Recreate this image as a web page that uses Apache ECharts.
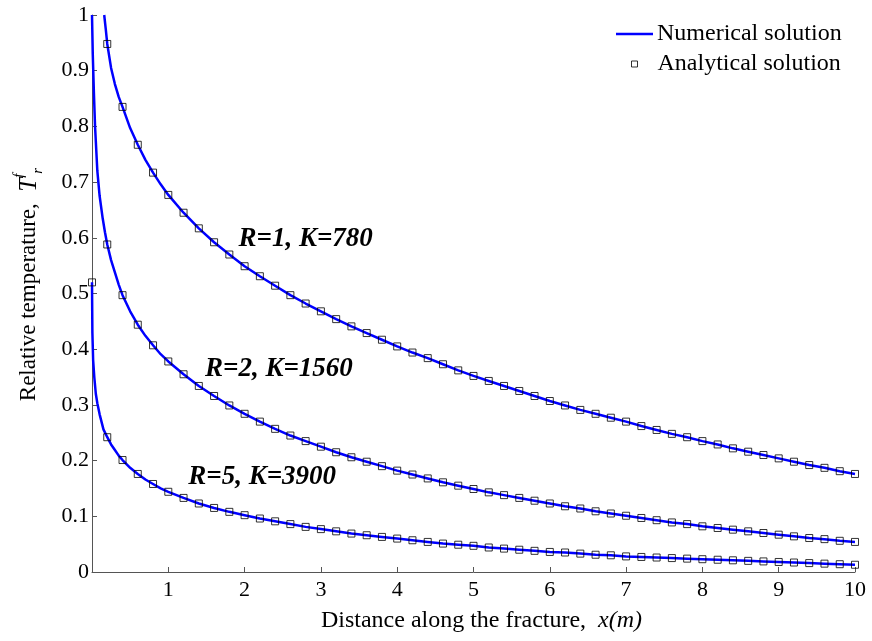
<!DOCTYPE html>
<html>
<head>
<meta charset="utf-8">
<script src="https://cdn.jsdelivr.net/npm/echarts@6/dist/echarts.min.js"></script>
<style>html,body{margin:0;padding:0;background:#fff}#c{width:872px;height:641px}</style>
</head>
<body>
<div id="c"></div>
<script>
// Sample positions of the analytical markers (m)
const xGrid = [0.2,0.4,0.6,0.8,1.0,1.2,1.4,1.6,1.8,2.0,2.2,2.4,2.6,2.8,3.0,3.2,3.4,3.6,3.8,4.0,
  4.2,4.4,4.6,4.8,5.0,5.2,5.4,5.6,5.8,6.0,6.2,6.4,6.6,6.8,7.0,7.2,7.4,7.6,7.8,8.0,
  8.2,8.4,8.6,8.8,9.0,9.2,9.4,9.6,9.8,10.0];

// R=1, K=780
const r1 = [0.948,0.835,0.767,0.717,0.677,0.645,0.617,0.592,0.570,0.549,0.531,0.514,0.497,0.482,0.468,0.454,0.441,0.429,0.417,0.405,
  0.394,0.384,0.373,0.362,0.352,0.343,0.334,0.325,0.316,0.307,0.299,0.291,0.284,0.277,0.270,0.262,0.255,0.248,0.242,0.235,
  0.229,0.222,0.216,0.210,0.204,0.198,0.192,0.187,0.181,0.176];
// R=2, K=1560
const r2 = [0.588,0.497,0.444,0.407,0.378,0.355,0.334,0.316,0.299,0.284,0.270,0.257,0.245,0.235,0.225,0.215,0.206,0.198,0.190,0.182,
  0.175,0.168,0.161,0.155,0.149,0.143,0.138,0.133,0.128,0.123,0.118,0.114,0.109,0.105,0.101,0.097,0.093,0.089,0.086,0.082,
  0.079,0.076,0.073,0.070,0.067,0.064,0.061,0.059,0.056,0.054];
// R=5, K=3900
const r5 = [0.242,0.201,0.176,0.158,0.144,0.133,0.123,0.115,0.108,0.102,0.096,0.091,0.086,0.081,0.077,0.073,0.069,0.066,0.063,0.060,
  0.057,0.054,0.051,0.049,0.047,0.044,0.042,0.040,0.038,0.036,0.035,0.033,0.031,0.030,0.028,0.027,0.026,0.025,0.024,0.023,
  0.022,0.021,0.020,0.019,0.018,0.017,0.016,0.015,0.014,0.013];
// extra analytical point at the origin
const originX = [0];
const originY = [0.52];

// numerical solution: extra points near the fracture inlet (steep part)
const r1ExtraX = [0.16,0.18,0.25,0.3,0.35,0.5,0.7,0.9];
const r1ExtraY = [1.0,0.975,0.905,0.876,0.853,0.797,0.740,0.696];
const r2ExtraX = [0,0.01,0.025,0.04,0.07,0.1,0.14,0.17,0.25,0.3,0.35,0.5,0.7,0.9];
const r2ExtraY = [1.0,0.93,0.86,0.80,0.72,0.675,0.635,0.61,0.560,0.538,0.516,0.468,0.424,0.391];
const r5ExtraX = [0,0.005,0.015,0.03,0.05,0.07,0.1,0.15,0.25,0.3,0.35,0.5,0.7,0.9];
const r5ExtraY = [0.52,0.43,0.38,0.35,0.32,0.303,0.283,0.256,0.229,0.219,0.209,0.187,0.166,0.150];

const labels = [
  {text:'R=1, K=780', x:2.80, y:0.598},
  {text:'R=2, K=1560', x:2.45, y:0.364},
  {text:'R=5, K=3900', x:2.23, y:0.170}
];

const FONT = '"Liberation Serif","Times New Roman",serif';

function zip(xs, ys){ return xs.map((x,i)=>[x, ys[i]]); }
function lineData(ex, ey, ys){
  const pts = zip(ex, ey).concat(zip(xGrid, ys));
  pts.sort((a,b)=>a[0]-b[0]);
  return pts;
}

function numSeries(data, lab){
  return {
    name:'Numerical solution', type:'line', data:data, showSymbol:false, symbol:'none',
    lineStyle:{color:'#0000ff', width:2.5}, itemStyle:{color:'#0000ff'},
    z:2, animation:false, clip:true,
    markPoint: {
      symbol:'circle', symbolSize:0, silent:true, animation:false,
      data:[{coord:[lab.x, lab.y], label:{show:true, formatter:lab.text, position:'inside',
        fontFamily:FONT, fontWeight:'bold', fontStyle:'italic', fontSize:27, color:'#000'}}]
    }
  };
}
function anaSeries(data){
  return {
    name:'Analytical solution', type:'scatter', data:data, symbol:'rect', symbolSize:7,
    itemStyle:{color:'rgba(255,255,255,0)', borderColor:'#000', borderWidth:1},
    z:3, animation:false
  };
}

const chart = echarts.init(document.getElementById('c'), null, {renderer:'canvas'});
chart.setOption({
  backgroundColor:'#fff',
  animation:false,
  grid:{left:92, right:17, top:15, bottom:69},
  legend:[
    {data:[{name:'Numerical solution', icon:'rect', itemStyle:{color:'#0000ff', borderWidth:0}}],
     left:611, top:17, itemWidth:37, itemHeight:2.5, symbolKeepAspect:false,
     textStyle:{fontFamily:FONT, fontSize:24, color:'#000', padding:[0,0,18,-1]}},
    {data:[{name:'Analytical solution', icon:'rect', itemStyle:{color:'rgba(255,255,255,0)', borderColor:'#000', borderWidth:1}}],
     left:626, top:47, itemWidth:6, itemHeight:6, symbolKeepAspect:false,
     textStyle:{fontFamily:FONT, fontSize:24, color:'#000', padding:[0,0,8,15]}}
  ],
  xAxis:{
    type:'value', min:0, max:10, interval:1,
    name:'{n|Distance along the fracture,  }{i|x(m)}', nameLocation:'middle', nameGap:37,
    nameTextStyle:{padding:[0,0,0,16], rich:{n:{fontFamily:FONT, fontSize:24, color:'#000'}, i:{fontFamily:FONT, fontSize:24, fontStyle:'italic', color:'#000'}}},
    axisLine:{lineStyle:{color:'#555', width:1}},
    axisTick:{inside:true, length:5, lineStyle:{color:'#555'}},
    axisLabel:{fontFamily:FONT, fontSize:22, color:'#000', margin:7, formatter:v=> v===0 ? '' : String(v)},
    splitLine:{show:false}
  },
  yAxis:{
    type:'value', min:0, max:1, interval:0.1,
    name:'{n|Relative temperature,  }{t|T}{sup|f}{sub|r}', nameLocation:'middle', nameGap:46,
    nameTextStyle:{padding:[0,0,0,18], rich:{
      n:{fontFamily:FONT, fontSize:23, color:'#000', lineHeight:34},
      t:{fontFamily:FONT, fontSize:25, fontStyle:'italic', color:'#000', lineHeight:34},
      sup:{fontFamily:FONT, fontSize:15, fontStyle:'italic', color:'#000', verticalAlign:'top', lineHeight:34},
      sub:{fontFamily:FONT, fontSize:15, fontStyle:'italic', color:'#000', verticalAlign:'bottom', lineHeight:34}
    }},
    axisLine:{show:true, lineStyle:{color:'#555', width:1}},
    axisTick:{show:true, inside:true, length:5, lineStyle:{color:'#555'}},
    axisLabel:{fontFamily:FONT, fontSize:22, color:'#000', margin:3,
      formatter:v=> (Math.round(v*10)/10).toString()},
    splitLine:{show:false}
  },
  series:[
    numSeries(lineData(r1ExtraX, r1ExtraY, r1), labels[0]),
    numSeries(lineData(r2ExtraX, r2ExtraY, r2), labels[1]),
    numSeries(lineData(r5ExtraX, r5ExtraY, r5), labels[2]),
    anaSeries(zip(xGrid, r1)),
    anaSeries(zip(xGrid, r2)),
    anaSeries(zip(originX, originY).concat(zip(xGrid, r5)))
  ]
});
</script>
</body>
</html>
